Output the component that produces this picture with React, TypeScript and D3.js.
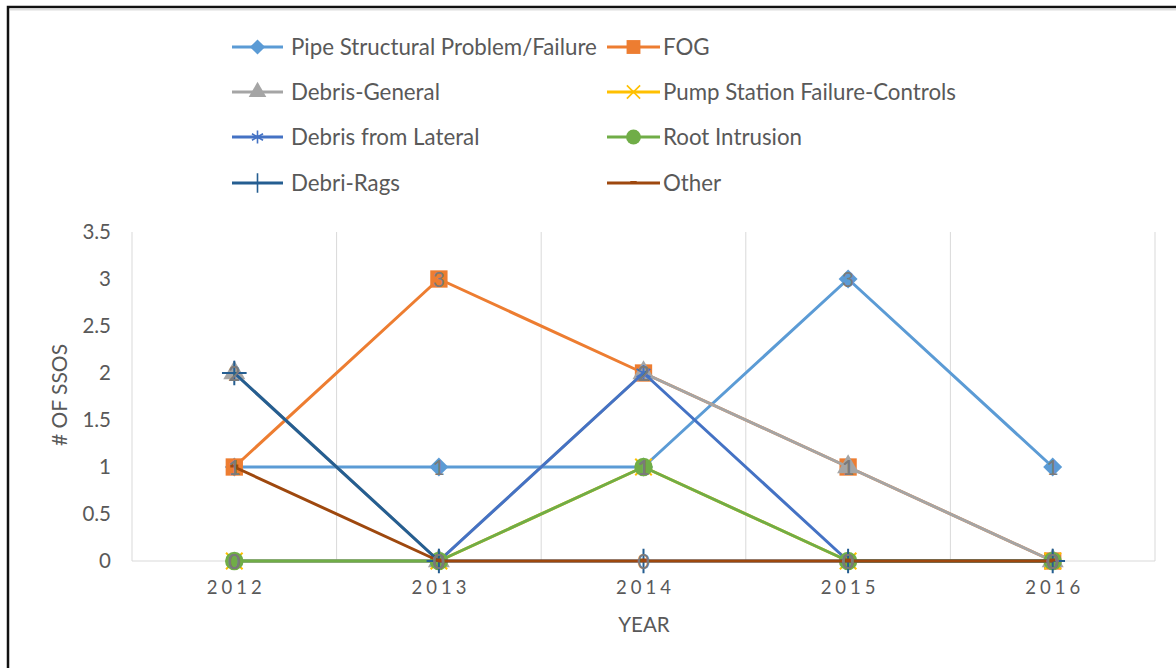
import * as d3 from "d3";
import React from "react";

const years = ["2012", "2013", "2014", "2015", "2016"];
const yTicks = [0, 0.5, 1, 1.5, 2, 2.5, 3, 3.5];

const seriesNames = [
  "Pipe Structural Problem/Failure",
  "FOG",
  "Debris-General",
  "Pump Station Failure-Controls",
  "Debris from Lateral",
  "Root Intrusion",
  "Debri-Rags",
  "Other",
];
const seriesColors = ["#5b9bd5", "#ed7d31", "#a5a5a5", "#ffc000", "#4472c4", "#70ad47", "#255e91", "#9e480e"];
const seriesMarkers = ["diamond", "square", "triangle", "x", "asterisk", "circle", "plus", "dash"];

const pipeValues = [1, 1, 1, 3, 1];
const fogValues = [1, 3, 2, 1, 0];
const debrisGeneralValues = [2, 0, 2, 1, 0];
const pumpValues = [0, 0, 1, 0, 0];
const lateralValues = [0, 0, 2, 0, 0];
const rootValues = [0, 0, 1, 0, 0];
const ragsValues = [2, 0, 0, 0, 0];
const otherValues = [1, 0, 0, 0, 0];

const seriesValues = [pipeValues, fogValues, debrisGeneralValues, pumpValues, lateralValues, rootValues, ragsValues, otherValues];

const FONT = "Lato, 'Open Sans', sans-serif";
const TEXT = "#595959";

function Marker({ type, color, x, y, scale = 1 }: { type: string; color: string; x: number; y: number; scale?: number }) {
  const t = `translate(${x},${y}) scale(${scale})`;
  if (type === "diamond") {
    return <path transform={`${t} rotate(45)`} d={d3.symbol(d3.symbolSquare, 180)() || ""} fill={color} />;
  }
  if (type === "square") {
    return <path transform={t} d={d3.symbol(d3.symbolSquare, 300)() || ""} fill={color} />;
  }
  if (type === "triangle") {
    return <path transform={t} d={d3.symbol(d3.symbolTriangle, 210)() || ""} fill={color} />;
  }
  if (type === "circle") {
    return <path transform={t} d={d3.symbol(d3.symbolCircle, 270)() || ""} fill={color} />;
  }
  if (type === "x") {
    return <path transform={t} d={d3.symbol(d3.symbolX, 180)() || ""} fill="none" stroke={color} strokeWidth={2} />;
  }
  if (type === "asterisk") {
    return <path transform={t} d={d3.symbol(d3.symbolAsterisk, 180)() || ""} fill="none" stroke={color} strokeWidth={2} />;
  }
  if (type === "plus") {
    return <path transform={t} d={d3.symbol(d3.symbolPlus, 200)() || ""} fill="none" stroke={color} strokeWidth={2} />;
  }
  // dash
  return <line transform={t} x1={-4} x2={4} y1={-1} y2={-1} stroke={color} strokeWidth={3} />;
}

export default function App() {
  const width = 1176;
  const height = 668;
  const left = 132;
  const right = 1155;
  const top = 232;
  const bottom = 561;

  const x = d3.scaleBand<string>().domain(years).range([left, right]);
  const y = d3.scaleLinear().domain([0, 3.5]).range([bottom, top]);

  const line = d3
    .line<number>()
    .x((_, i) => (x(years[i]) as number) + x.bandwidth() / 2)
    .y((d) => y(d));

  const legendRows = [47, 92, 137, 183];
  const legendCols = [{ l: 232, r: 283, t: 291 }, { l: 607, r: 660, t: 663 }];

  return (
    <svg
      width={width}
      height={height}
      style={{ position: "absolute", left: 0, top: 0, background: "#fff" }}
      fontFamily={FONT}
    >
      <rect x={8} y={7} width={1200} height={700} fill="none" stroke="#111" strokeWidth={2.5} />
      <line x1={10} x2={1176} y1={9.5} y2={9.5} stroke="#ddd" strokeWidth={2} />

      {/* vertical gridlines */}
      {years.map((yr) => (
        <line
          key={"g" + yr}
          x1={(x(yr) as number) + x.bandwidth()}
          x2={(x(yr) as number) + x.bandwidth()}
          y1={top}
          y2={bottom}
          stroke="#d9d9d9"
          strokeWidth={1}
        />
      ))}
      <line x1={left} x2={left} y1={top} y2={bottom} stroke="#d9d9d9" />
      <line x1={left} x2={right} y1={bottom} y2={bottom} stroke="#d9d9d9" />

      {/* y ticks */}
      {yTicks.map((t) => (
        <text key={"y" + t} x={111} y={y(t)} dy="0.35em" textAnchor="end" fontSize={20.5} fill={TEXT}>
          {t}
        </text>
      ))}
      {/* x ticks */}
      {years.map((yr) => (
        <text
          key={"x" + yr}
          x={(x(yr) as number) + x.bandwidth() / 2 + 2}
          y={594}
          textAnchor="middle"
          fontSize={18.5}
          letterSpacing={4}
          fill={TEXT}
        >
          {yr}
        </text>
      ))}
      <text x={644} y={632} textAnchor="middle" fontSize={20.5} fill={TEXT}>
        YEAR
      </text>
      <text transform="translate(67,395) rotate(-90)" textAnchor="middle" fontSize={21} fill={TEXT}>
        # OF SSOS
      </text>

      {/* series */}
      {seriesValues.map((vals, s) => (
        <g key={"s" + s}>
          <path d={line(vals) || ""} fill="none" stroke={seriesColors[s]} strokeWidth={3} strokeLinejoin="round" />
          {vals.map((v, i) => (
            <Marker
              key={i}
              type={seriesMarkers[s]}
              color={seriesColors[s]}
              x={(x(years[i]) as number) + x.bandwidth() / 2}
              y={y(v)}
            />
          ))}
        </g>
      ))}
      {/* data labels */}
      {seriesValues.map((vals, s) =>
        vals.map((v, i) => (
          <text
            key={"l" + s + "-" + i}
            x={(x(years[i]) as number) + x.bandwidth() / 2}
            y={y(v)}
            dy="0.36em"
            textAnchor="middle"
            fontSize={21}
            fill="#7a7a7a"
          >
            {v}
          </text>
        ))
      )}

      {/* legend */}
      {seriesNames.map((name, s) => {
        const col = legendCols[s % 2];
        const ry = legendRows[Math.floor(s / 2)];
        return (
          <g key={"lg" + s}>
            <line x1={col.l} x2={col.r} y1={ry} y2={ry} stroke={seriesColors[s]} strokeWidth={3} />
            <Marker type={seriesMarkers[s]} color={seriesColors[s]} x={(col.l + col.r) / 2} y={ry} scale={0.8} />
            <text x={col.t} y={ry} dy="0.35em" fontSize={22.3} fill={TEXT}>
              {name}
            </text>
          </g>
        );
      })}
    </svg>
  );
}
